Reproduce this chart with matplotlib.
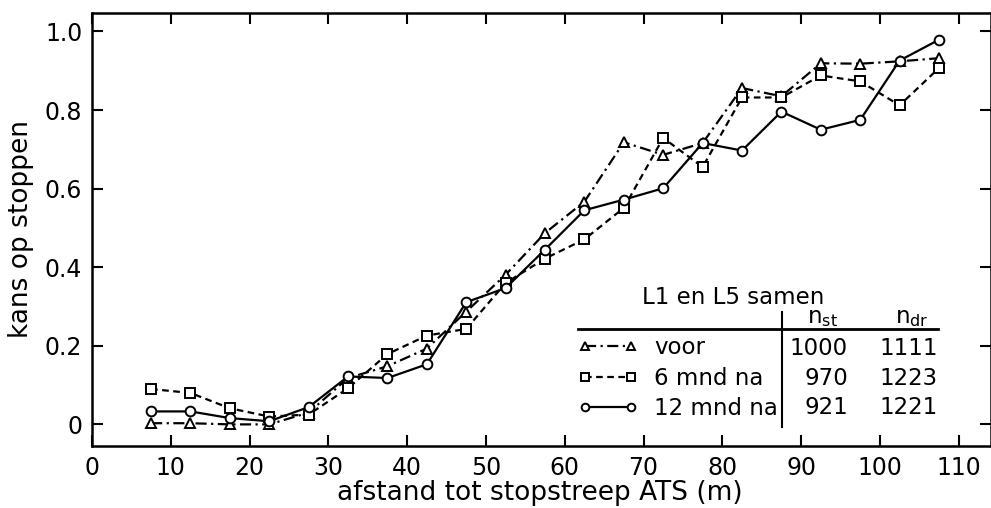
import matplotlib
matplotlib.use('Agg')
from matplotlib import pyplot as plt

# kans op stoppen vs afstand tot stopstreep, L1 en L5 samen

afstand = [7.5, 12.5, 17.5, 22.5, 27.5, 32.5, 37.5, 42.5, 47.5, 52.5, 57.5,
           62.5, 67.5, 72.5, 77.5, 82.5, 87.5, 92.5, 97.5, 102.5, 107.5]

voor = [0.003, 0.003, 0.0, 0.0, 0.03, 0.118, 0.148, 0.193, 0.287, 0.381, 0.487,
        0.567, 0.718, 0.686, 0.716, 0.856, 0.835, 0.919, 0.918, 0.924, 0.932]
mnd6 = [0.090, 0.080, 0.041, 0.020, 0.025, 0.092, 0.179, 0.226, 0.243, 0.360, 0.422,
        0.471, 0.551, 0.729, 0.655, 0.832, 0.832, 0.888, 0.873, 0.812, 0.907]
mnd12 = [0.033, 0.033, 0.016, 0.008, 0.044, 0.122, 0.118, 0.153, 0.311, 0.347, 0.445,
         0.545, 0.572, 0.601, 0.716, 0.697, 0.796, 0.750, 0.775, 0.926, 0.979]

labels = ['voor', '6 mnd na', '12 mnd na']
n_st = ['1000', '970', '921']
n_dr = ['1111', '1223', '1221']

xticks = [0, 10, 20, 30, 40, 50, 60, 70, 80, 90, 100, 110]
yticks = [0, 0.2, 0.4, 0.6, 0.8, 1.0]
yticklabels = ['0', '0.2', '0.4', '0.6', '0.8', '1.0']

plt.rcParams['font.family'] = 'DejaVu Sans'

fig = plt.figure(figsize=(9.91, 5.08), dpi=100)
ax = fig.add_axes([92/991, 62/508, 899/991, 433/508])

lw = 1.6
ms = 7
common = dict(color='black', lw=lw, ms=ms, mfc='white', mec='black', mew=1.4)
l1, = ax.plot(afstand, voor, ls=(0, (5, 2, 1, 2)), marker='^', **common)
l2, = ax.plot(afstand, mnd6, ls=(0, (3, 2)), marker='s', **common)
l3, = ax.plot(afstand, mnd12, ls='-', marker='o', **common)

ax.set_xlim(0, 114.1)
ax.set_ylim(-0.055, 1.047)
ax.set_xticks(xticks)
ax.set_yticks(yticks)
ax.set_yticklabels(yticklabels)
ax.tick_params(direction='in', length=8, width=1.5, labelsize=17, pad=7,
               top=True, right=True)
for s in ax.spines.values():
    s.set_linewidth(1.8)

ax.set_xlabel('afstand tot stopstreep ATS (m)', fontsize=19)
ax.xaxis.set_label_coords(0.498, -0.078)
ax.set_ylabel('kans op stoppen', fontsize=19)
ax.yaxis.set_label_coords(-0.065, 0.5)

# legend / tabel rechtsonder
leg = ax.legend([l1, l2, l3], labels, loc='upper left',
                bbox_to_anchor=(0.541, 0.253), borderaxespad=0, borderpad=0,
                frameon=False, fontsize=16.5, numpoints=2, handlelength=2.6,
                handletextpad=0.7, labelspacing=0.32)
for h in leg.legend_handles:
    h.set_markersize(5.5)

fs = 16.5
ax.text(0.713, 0.342, 'L1 en L5 samen', transform=ax.transAxes,
        ha='center', va='center', fontsize=fs)
ax.plot([0.541, 0.941], [0.270, 0.270], transform=ax.transAxes,
        color='black', lw=2)
ax.plot([0.7675, 0.7675], [0.309, 0.044], transform=ax.transAxes,
        color='black', lw=1.5)
ax.text(0.813, 0.296, r'$\mathregular{n_{st}}$', transform=ax.transAxes,
        ha='center', va='center', fontsize=fs)
ax.text(0.912, 0.296, r'$\mathregular{n_{dr}}$', transform=ax.transAxes,
        ha='center', va='center', fontsize=fs)
rows_y = [0.226, 0.157, 0.090]
for y, a, b in zip(rows_y, n_st, n_dr):
    ax.text(0.841, y, a, transform=ax.transAxes, ha='right', va='center', fontsize=fs)
    ax.text(0.941, y, b, transform=ax.transAxes, ha='right', va='center', fontsize=fs)

plt.savefig('out.png', dpi=100)
